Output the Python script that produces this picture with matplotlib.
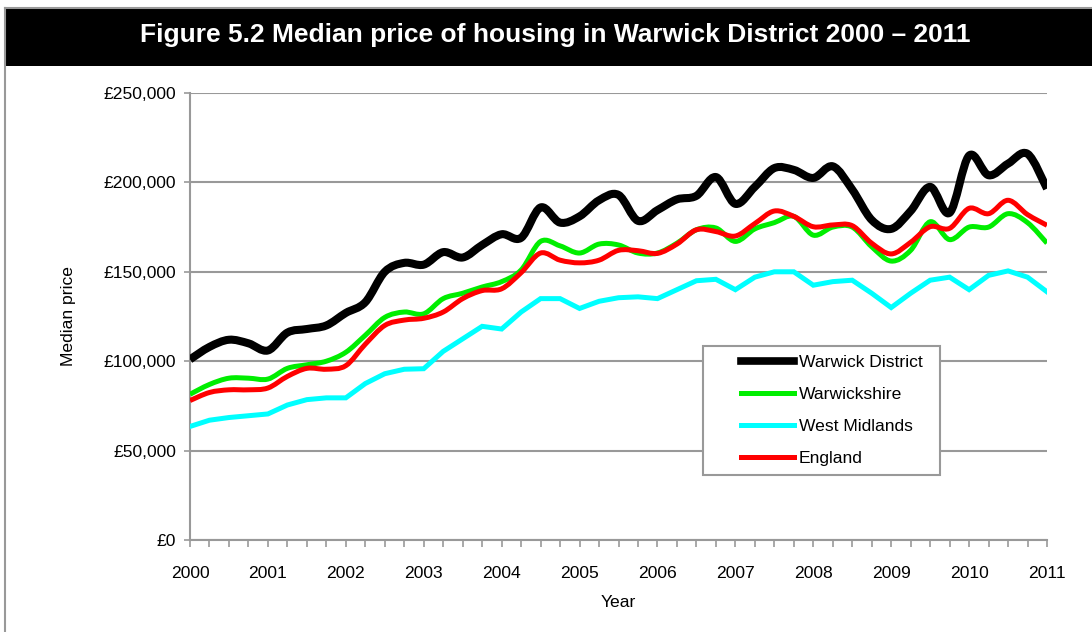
import matplotlib
matplotlib.use("Agg")
import matplotlib.pyplot as plt
import numpy as np
from matplotlib.path import Path
from matplotlib.patches import PathPatch, Rectangle
from matplotlib.lines import Line2D
from matplotlib.ticker import FuncFormatter, MultipleLocator

plt.rcParams['font.family'] = ['Liberation Sans', 'DejaVu Sans']

# quarterly points, 2000 Q1 .. 2011 Q1
quarters = [2000 + q / 4 for q in range(45)]

warwick_district = [101, 108, 112, 110, 106, 116, 118, 120, 127, 133, 150, 155,
                    154, 161, 158, 165, 171, 169, 186, 177.5, 181, 190, 193,
                    178.5, 184.5, 190.5, 192.5, 203, 188, 197.5, 208, 207, 202.5,
                    209, 196, 179, 174, 184, 197.5, 183, 215, 204, 210.5, 216, 196.5]
warwickshire = [81.5, 87, 90.5, 90.5, 90, 96, 98, 100, 105, 114.5, 124.5, 127.5,
                126.5, 135, 138, 141.5, 144.5, 151, 167, 164.5, 160.5, 165.5, 165,
                160.5, 160.5, 166, 173.5, 174.5, 167, 174, 177.5, 181, 170.5,
                175, 175, 164, 156, 162, 178, 168, 175, 175, 182.5, 177.5, 166]
west_midlands = [63.5, 67, 68.5, 69.5, 70.5, 75.5, 78.5, 79.5, 79.5, 87.5, 93, 95.5,
                 95.8, 105.5, 112.5, 119.5, 118, 127.5, 135, 135, 129.5, 133.5, 135.5,
                 136, 135, 140, 145, 145.8, 140, 147, 150, 150, 142.5, 144.5,
                 145.3, 138, 130, 138, 145.3, 147, 140, 148, 150.5, 147, 138.8]
england = [78, 82.5, 84, 84, 85, 91.5, 96, 95.5, 97.5, 109.5, 120, 123,
           124, 127.5, 135, 139.5, 140.5, 149.5, 160.5, 156.5, 155, 156.5, 162,
           161.8, 160.3, 165.5, 173.5, 172.5, 170, 177, 184, 181, 175.2,
           176.2, 175.8, 166, 160, 166.5, 175.2, 174.3, 185.5, 182.5, 190, 182, 176]

series = [
    ("Warwick District", warwick_district, "#000000", 5.8, True),
    ("Warwickshire", warwickshire, "#00ee00", 3.6, True),
    ("West Midlands", west_midlands, "#00ffff", 3.6, False),
    ("England", england, "#ff0000", 3.6, True),
]


def smooth_path(xs, ys):
    # Excel style smoothed line: bezier segments through every point
    pts = np.column_stack([xs, ys])
    n = len(pts)
    verts = [pts[0]]
    codes = [Path.MOVETO]
    for i in range(n - 1):
        p0 = pts[i - 1] if i > 0 else pts[i]
        p1 = pts[i]
        p2 = pts[i + 1]
        p3 = pts[i + 2] if i + 2 < n else pts[i + 1]
        c1 = p1 + (p2 - p0) / 6
        c2 = p2 - (p3 - p1) / 6
        verts += [c1, c2, p2]
        codes += [Path.CURVE4] * 3
    return Path(verts, codes)


fig = plt.figure(figsize=(10.92, 6.32), dpi=100)
ax = fig.add_axes([190 / 1092, 1 - 540 / 632, 857 / 1092, 447 / 632])

grey = "#999999"
for name, vals, col, lw, smooth in series:
    yv = [v * 1000 for v in vals]
    if smooth:
        patch = PathPatch(smooth_path(quarters, yv), facecolor="none", edgecolor=col,
                          lw=lw, capstyle="butt", joinstyle="round", zorder=3)
        ax.add_patch(patch)
    else:
        ax.plot(quarters, yv, color=col, lw=lw, solid_joinstyle="miter", zorder=3)

ax.set_xlim(2000, 2011)
ax.set_ylim(0, 250000)
ax.xaxis.set_major_locator(MultipleLocator(1))
ax.xaxis.set_minor_locator(MultipleLocator(0.25))
ax.yaxis.set_major_locator(MultipleLocator(50000))
ax.xaxis.set_major_formatter(FuncFormatter(lambda v, p: f"{int(round(v))}"))
ax.yaxis.set_major_formatter(FuncFormatter(lambda v, p: f"£{int(v):,}"))

ax.grid(axis="y", color=grey, lw=1.5, zorder=0)
ax.set_axisbelow(True)
for s in ("top", "right"):
    ax.spines[s].set_visible(False)
for s in ("left", "bottom"):
    ax.spines[s].set_color(grey)
    ax.spines[s].set_linewidth(1.5)

fs = 12.6
ax.tick_params(axis="both", which="both", direction="out", color=grey, width=1.2,
               labelsize=fs, labelcolor="black")
ax.tick_params(axis="x", which="both", length=5, pad=14)
ax.tick_params(axis="y", length=4, pad=6)

ax.set_xlabel("Year", fontsize=fs, labelpad=10)
ax.set_ylabel("Median price", fontsize=fs, labelpad=20)

# legend: frame drawn separately so the inner padding matches
frame = Rectangle((703 / 1092, 1 - 475 / 632), 237 / 1092, 129 / 632,
                  transform=fig.transFigure, facecolor="white", edgecolor=grey,
                  lw=1.5, zorder=5)
fig.add_artist(frame)
handles = [Line2D([], [], color=c, lw=(5.5 if i == 0 else 3.6)) for i, (_, _, c, _, _) in enumerate(series)]
leg = fig.legend(handles, [s[0] for s in series], loc="upper left",
                 bbox_to_anchor=(741 / 1092, 1 - 355 / 632), frameon=False,
                 fontsize=fs, handlelength=3.0, handletextpad=0.3,
                 labelspacing=0.95, borderpad=0, borderaxespad=0)
leg.set_zorder(6)

# title bar and outer frame
fig.add_artist(Rectangle((5 / 1092, 1 - 66 / 632), 1 - 5 / 1092, 57 / 632,
                         transform=fig.transFigure, facecolor="black", edgecolor="none"))
fig.text(555 / 1092, 1 - 35 / 632, "Figure 5.2 Median price of housing in Warwick District 2000 – 2011",
         color="white", fontsize=19, fontweight="bold", ha="center", va="center")
fig.add_artist(Line2D([5 / 1092, 5 / 1092], [0, 1 - 8 / 632], transform=fig.transFigure,
                      color=grey, lw=1.5))
fig.add_artist(Line2D([5 / 1092, 1], [1 - 8 / 632, 1 - 8 / 632], transform=fig.transFigure,
                      color=grey, lw=1.5))

fig.savefig("out.png", dpi=100)
